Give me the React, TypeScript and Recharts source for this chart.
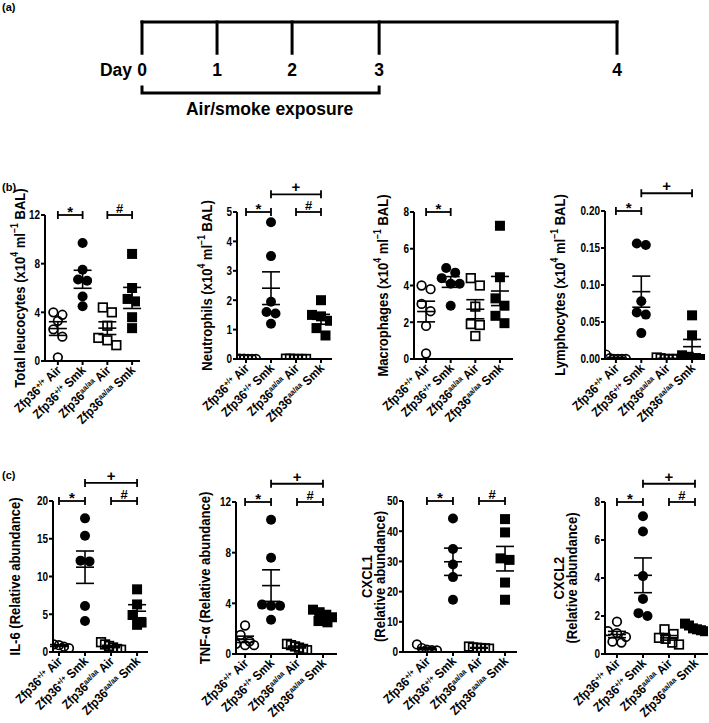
import React from 'react';
import { ScatterChart, Scatter, XAxis, YAxis, ErrorBar, ReferenceLine } from 'recharts';

const FONT = '"Liberation Sans", Arial, Helvetica, sans-serif';

// ---- (a) exposure timeline ----
const days = [0, 1, 2, 3, 4];
// where each day sits along the drawn timeline (spacing is not even in the figure)
const dayPositions = [0, 1, 2, 3.16, 6.33];
const exposureDays = [0, 3];
const exposureLabel = 'Air/smoke exposure';

// ---- groups (same order in every plot) ----
const groupLabels = ['Zfp36^{+/+} Air', 'Zfp36^{+/+} Smk', 'Zfp36^{aa/aa} Air', 'Zfp36^{aa/aa} Smk'];

// ---- (b) BAL cell counts, x10^4 per ml: [WT Air, WT Smk, aa Air, aa Smk] ----
const totalLeucocytes = [
  [4.0, 3.8, 3.3, 2.6, 2.0, 0.3],
  [9.7, 7.5, 6.7, 6.6, 5.3, 4.5],
  [4.4, 4.0, 2.9, 1.9, 1.7, 1.3],
  [8.8, 6.0, 5.1, 4.9, 3.6, 2.7],
];
const neutrophils = [
  [0.02, 0.01, 0.01, 0, 0, 0],
  [4.65, 3.5, 1.95, 1.6, 1.55, 1.2],
  [0.01, 0.01, 0, 0, 0, 0],
  [2.0, 1.5, 1.45, 1.3, 1.05, 0.8],
];
const macrophages = [
  [4.0, 3.8, 3.0, 2.6, 1.8, 0.3],
  [4.95, 4.7, 4.4, 4.1, 4.1, 2.9],
  [4.4, 4.0, 2.85, 1.9, 1.85, 1.25],
  [7.25, 4.45, 3.3, 2.9, 2.35, 1.95],
];
const lymphocytes = [
  [0.006, 0.001, 0, 0, 0, 0],
  [0.156, 0.154, 0.078, 0.063, 0.06, 0.035],
  [0.002, 0.001, 0, 0, 0, 0],
  [0.059, 0.032, 0.005, 0.003, 0.001, 0],
];

// ---- (c) relative mRNA abundance ----
const il6 = [
  [1.2, 1.0, 0.9, 0.7, 0.5],
  [17.7, 15.4, 12.1, 12.0, 6.1, 4.1],
  [1.3, 1.0, 0.8, 0.6, 0.4, 0.3],
  [8.3, 6.3, 4.9, 3.9, 3.6],
];
const tnf = [
  [2.25, 1.5, 1.0, 0.8, 0.7, 0.7],
  [10.6, 7.6, 3.9, 3.8, 3.8, 2.7],
  [0.8, 0.7, 0.6, 0.5, 0.4, 0.3],
  [3.5, 3.3, 3.1, 2.9, 2.6, 2.5],
];
const cxcl1 = [
  [2.5, 1.3, 0.8, 0.6, 0.5],
  [44.2, 34.1, 29.0, 24.8, 17.3],
  [1.8, 1.5, 1.4, 1.3, 1.2, 1.1],
  [44.0, 39.6, 31.0, 30.5, 23.0, 17.3],
];
const cxcl2 = [
  [1.7, 1.2, 1.1, 0.9, 0.65, 0.6],
  [7.25, 6.45, 4.1, 2.9, 2.15, 2.0],
  [1.3, 1.05, 0.85, 0.8, 0.6, 0.5],
  [1.6, 1.5, 1.35, 1.3, 1.25, 1.2],
];

const leucTicks = [0, 4, 8, 12];
const neutTicks = [0, 1, 2, 3, 4, 5];
const macTicks = [0, 2, 4, 6, 8];
const lymTicks = [0, 0.05, 0.1, 0.15, 0.2];
const il6Ticks = [0, 5, 10, 15, 20];
const tnfTicks = [0, 4, 8, 12];
const cxcl1Ticks = [0, 10, 20, 30, 40, 50];
const cxcl2Ticks = [0, 2, 4, 6, 8];

type Sig = { from: number; to: number; sym: string; raised?: boolean };
const sigStar: Sig = { from: 0, to: 1, sym: '*' };
const sigHash: Sig = { from: 2, to: 3, sym: '#' };
const sigPlus: Sig = { from: 1, to: 3, sym: '+', raised: true };

type Spec = {
  values: number[][];
  ticks: number[];
  decimals: number;
  title: string[];
  sig: Sig[];
  box: number[]; // plot left, right, top, bottom on the page
  xDom: [number, number];
  titleX: number[];
};

const specs: Spec[] = [
  { values: totalLeucocytes, ticks: leucTicks, decimals: 0, title: ['Total leucocytes (x10^{4} ml^{−1} BAL)'], sig: [sigStar, sigHash], box: [45, 140, 215, 361], xDom: [-0.52, 3.32], titleX: [-25] },
  { values: neutrophils, ticks: neutTicks, decimals: 0, title: ['Neutrophils (x10^{4} ml^{−1} BAL)'], sig: [sigStar, sigHash, sigPlus], box: [237, 332, 212, 359], xDom: [-0.36, 3.44], titleX: [-30] },
  { values: macrophages, ticks: macTicks, decimals: 0, title: ['Macrophages (x10^{4} ml^{−1} BAL)'], sig: [sigStar], box: [414, 513, 212, 359], xDom: [-0.49, 3.53], titleX: [-31] },
  { values: lymphocytes, ticks: lymTicks, decimals: 2, title: ['Lymphocytes (x10^{4} ml^{−1} BAL)'], sig: [sigStar, sigPlus], box: [605, 705, 211, 359], xDom: [-0.43, 3.51], titleX: [-45] },
  { values: il6, ticks: il6Ticks, decimals: 0, title: ['IL-6 (Relative abundance)'], sig: [sigStar, sigHash, sigPlus], box: [53, 148, 501, 652], xDom: [-0.23, 3.42], titleX: [-38] },
  { values: tnf, ticks: tnfTicks, decimals: 0, title: ['TNF-α (Relative abundance)'], sig: [sigStar, sigHash, sigPlus], box: [236, 337, 502, 654], xDom: [-0.35, 3.54], titleX: [-31] },
  { values: cxcl1, ticks: cxcl1Ticks, decimals: 0, title: ['CXCL1', '(Relative abundance)'], sig: [sigStar, sigHash], box: [403, 517, 501, 652], xDom: [-0.92, 3.46], titleX: [-36, -23] },
  { values: cxcl2, ticks: cxcl2Ticks, decimals: 0, title: ['CXCL2', '(Relative abundance)'], sig: [sigStar, sigHash, sigPlus], box: [605, 708, 502, 654], xDom: [-0.46, 3.5], titleX: [-46, -33] },
];

// "x^{sup}" -> tspans
function rich(s: string, supSize: number, shift: number) {
  const parts = s.split(/\^\{([^}]*)\}/);
  return parts.map((p, i) =>
    i % 2 === 1 ? (
      <tspan key={i} dy={-shift} fontSize={supSize}>{p}</tspan>
    ) : (
      <tspan key={i} dy={i === 0 ? 0 : shift}>{p}</tspan>
    )
  );
}

// GraphPad style: points that would overlap get spread sideways
function spread(vals: number[], pxPerUnit: number, pxPerCat: number) {
  const order = vals.map((_, i) => i).sort((a, b) => vals[b] - vals[a]);
  const offs = vals.map(() => 0);
  let cluster: number[] = [];
  const flush = () => {
    const n = cluster.length;
    const step = n > 1 ? Math.min(9, 20 / (n - 1)) : 0;
    cluster.forEach((k, j) => (offs[k] = ((j - (n - 1) / 2) * step) / pxPerCat));
    cluster = [];
  };
  order.forEach((k) => {
    if (cluster.length && (vals[cluster[0]] - vals[k]) * pxPerUnit >= 8) flush();
    cluster.push(k);
  });
  flush();
  return offs;
}

const OpenCircle = (p: any) => <circle cx={p.cx} cy={p.cy} r={4.3} fill="none" stroke="#000" strokeWidth={1.7} />;
const FilledCircle = (p: any) => <circle cx={p.cx} cy={p.cy} r={5} fill="#000" />;
const OpenSquare = (p: any) => <rect x={p.cx - 4.3} y={p.cy - 4.3} width={8.6} height={8.6} fill="none" stroke="#000" strokeWidth={1.7} />;
const FilledSquare = (p: any) => <rect x={p.cx - 5} y={p.cy - 5} width={10} height={10} fill="#000" />;
const markerShapes = [OpenCircle, FilledCircle, OpenSquare, FilledSquare];

const MeanLine = (p: any) => <line x1={p.cx - 9} x2={p.cx + 9} y1={p.cy} y2={p.cy} stroke="#000" strokeWidth={1.6} />;

const SigBracket = (p: any) => {
  const { x1, x2, y1, sym } = p;
  const base = sym === '*' ? y1 + 2 : y1 - 2;
  return (
    <g>
      <line x1={x1} x2={x2} y1={y1} y2={y1} stroke="#000" strokeWidth={1.8} />
      <line x1={x1} x2={x1} y1={y1 - 4} y2={y1 + 4} stroke="#000" strokeWidth={1.8} />
      <line x1={x2} x2={x2} y1={y1 - 4} y2={y1 + 4} stroke="#000" strokeWidth={1.8} />
      <text x={(x1 + x2) / 2} y={base} textAnchor="middle" fontSize={sym === '#' ? 13 : 15} fontWeight="bold" fontFamily={FONT} fill="#000">{sym}</text>
    </g>
  );
};

const CatTick = (p: any) => (
  <text transform={`translate(${p.x + 4},${p.y + 4}) rotate(-45) scale(0.9,1)`} textAnchor="end" fontSize={12.8} fontWeight="bold" fontFamily={FONT} fill="#000">
    {rich(groupLabels[p.payload.value], 8, 4)}
  </text>
);

const NumTick = (p: any) => (
  <text transform={`translate(${p.x},${p.y}) scale(0.8,1)`} textAnchor="end" dominantBaseline="central" fontSize={12.5} fontWeight="bold" fontFamily={FONT} fill="#000">
    {Number(p.payload.value).toFixed(p.decimals)}
  </text>
);

const PAD_L = 62, PAD_T = 40, PAD_R = 6, PAD_B = 90;
const AX = { stroke: '#000', strokeWidth: 2 };

function DotPlot({ spec }: { spec: Spec }) {
  const [l, r, t, b] = spec.box;
  const pw = r - l;
  const ph = b - t;
  const yMax = spec.ticks[spec.ticks.length - 1];
  const pxPerUnit = ph / yMax;
  const pxPerCat = pw / (spec.xDom[1] - spec.xDom[0]);

  const points = spec.values.map((vals, g) => {
    const offs = spread(vals, pxPerUnit, pxPerCat);
    return vals.map((v, i) => ({ x: g + offs[i], y: v }));
  });
  const stats = spec.values.map((vals, g) => {
    const n = vals.length;
    const m = vals.reduce((s, v) => s + v, 0) / n;
    const sd = Math.sqrt(vals.reduce((s, v) => s + (v - m) ** 2, 0) / (n - 1));
    return { x: g, y: m, sem: sd / Math.sqrt(n) };
  });

  const title = () => (
    <g>
      {spec.title.map((s, i) => (
        <text key={i} transform={`translate(${PAD_L + spec.titleX[i]},${PAD_T + ph / 2}) rotate(-90) scale(0.87,1)`} textAnchor="middle" dominantBaseline="central" fontSize={15} fontWeight="bold" fontFamily={FONT} fill="#000">
          {rich(s, 10, 5)}
        </text>
      ))}
    </g>
  );

  return (
    <div style={{ position: 'absolute', left: l - PAD_L, top: t - PAD_T }}>
      <ScatterChart width={pw + PAD_L + PAD_R} height={ph + PAD_T + PAD_B} margin={{ top: PAD_T, right: PAD_R, bottom: 0, left: 0 }}>
        <XAxis type="number" dataKey="x" domain={spec.xDom} ticks={[0, 1, 2, 3]} interval={0} allowDataOverflow height={PAD_B} tick={<CatTick />} tickSize={4} tickMargin={2} axisLine={AX} tickLine={AX} />
        <YAxis type="number" dataKey="y" domain={[0, yMax]} ticks={spec.ticks} interval={0} allowDataOverflow width={PAD_L} tick={(p: any) => <NumTick {...p} decimals={spec.decimals} />} tickSize={4} tickMargin={1} axisLine={AX} tickLine={AX} label={{ content: title }} />
        {points.map((d, g) => (
          <Scatter key={g} data={d} shape={markerShapes[g]} isAnimationActive={false} />
        ))}
        <Scatter data={stats} shape={MeanLine} isAnimationActive={false}>
          <ErrorBar dataKey="sem" direction="y" width={9} stroke="#000" strokeWidth={1.6} isAnimationActive={false} />
        </Scatter>
        {spec.sig.map((s, i) => {
          const lvl = s.raised ? yMax * 1.12 : yMax;
          return (
            <ReferenceLine key={i} ifOverflow="visible" segment={[{ x: s.from, y: lvl }, { x: s.to, y: lvl }]} shape={(p: any) => <SigBracket {...p} sym={s.sym} />} />
          );
        })}
      </ScatterChart>
    </div>
  );
}

// timeline drawn on its own scale: y 1 = top rail, 0 = exposure bracket
const TICK_END = 0.56;
const LABEL_LEVEL = 0.24;

const DayLabel = (p: any) => (
  <g>
    {p.payload.day === days[0] && (
      <text x={p.cx - 10} y={p.cy} textAnchor="end" fontSize={17.5} fontWeight="bold" fontFamily={FONT} fill="#000">Day</text>
    )}
    <text x={p.cx} y={p.cy} textAnchor="middle" fontSize={17.5} fontWeight="bold" fontFamily={FONT} fill="#000">{p.payload.day}</text>
  </g>
);

const ExposureBracket = (p: any) => (
  <g>
    <path d={`M${p.x1},${p.y1 - 6}V${p.y1}H${p.x2}V${p.y1 - 6}`} fill="none" stroke="#000" strokeWidth={3} strokeLinecap="square" />
    <text x={(p.x1 + p.x2) / 2 + 9} y={p.y1 + 22} textAnchor="middle" fontSize={17.5} fontWeight="bold" fontFamily={FONT} fill="#000">{exposureLabel}</text>
  </g>
);

function Timeline() {
  const L = 142, R = 617, T = 22, B = 93, H = 130;
  const first = dayPositions[0];
  const last = dayPositions[dayPositions.length - 1];
  const labels = days.map((d, i) => ({ x: dayPositions[i], y: LABEL_LEVEL, day: d }));
  return (
    <div style={{ position: 'absolute', left: 0, top: 0 }}>
      <ScatterChart width={709} height={H} margin={{ top: T, left: L, right: 709 - R, bottom: H - B }}>
        <XAxis type="number" dataKey="x" domain={[first, last]} hide />
        <YAxis type="number" dataKey="y" domain={[0, 1]} hide />
        <ReferenceLine ifOverflow="visible" segment={[{ x: first, y: 1 }, { x: last, y: 1 }]} stroke="#000" strokeWidth={3} strokeLinecap="square" />
        {dayPositions.map((p, i) => (
          <ReferenceLine key={i} ifOverflow="visible" segment={[{ x: p, y: 1 }, { x: p, y: TICK_END }]} stroke="#000" strokeWidth={3} strokeLinecap="square" />
        ))}
        <ReferenceLine ifOverflow="visible" segment={[{ x: dayPositions[exposureDays[0]], y: 0 }, { x: dayPositions[exposureDays[1]], y: 0 }]} shape={ExposureBracket} />
        <Scatter data={labels} shape={DayLabel} isAnimationActive={false} />
      </ScatterChart>
    </div>
  );
}

const panelTag = (txt: string, top: number) => (
  <div style={{ position: 'absolute', left: 2, top, fontFamily: FONT, fontWeight: 'bold', fontSize: 11, lineHeight: '12px' }}>{txt}</div>
);

export default function App() {
  return (
    <div style={{ position: 'absolute', left: 0, top: 0, width: 709, height: 723, overflow: 'hidden', background: '#fff' }}>
      {panelTag('(a)', 1)}
      <Timeline />
      {panelTag('(b)', 181)}
      {panelTag('(c)', 469)}
      {specs.map((s, i) => (
        <DotPlot key={i} spec={s} />
      ))}
    </div>
  );
}
